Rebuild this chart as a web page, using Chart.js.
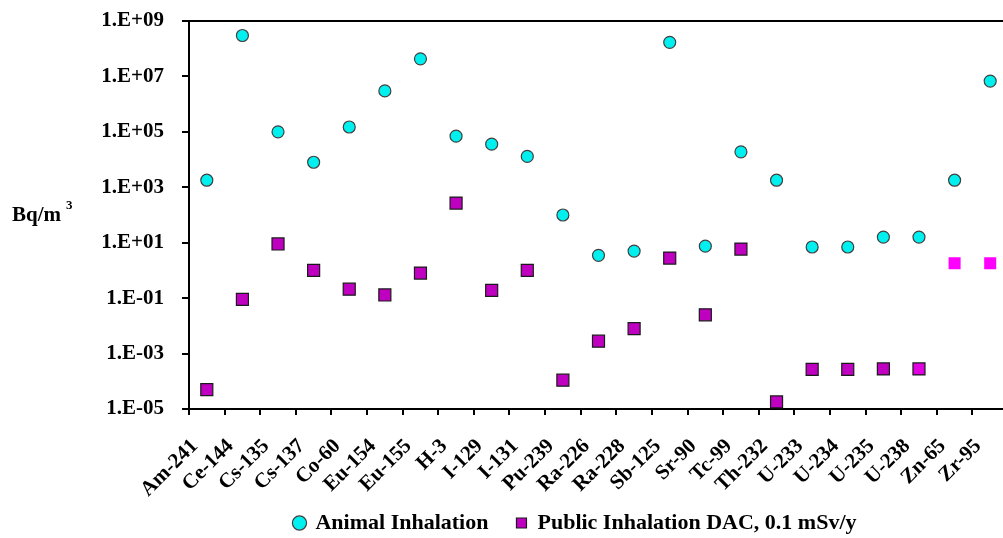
<!DOCTYPE html>
<html><head><meta charset="utf-8">
<script src="https://cdn.jsdelivr.net/npm/chart.js@4/dist/chart.umd.min.js"></script>
<style>
html,body{margin:0;padding:0;background:#fff;overflow:hidden;}
#wrap{width:1003px;height:538px;position:relative;}
canvas{display:block;}
</style></head><body>
<div id="wrap"><canvas id="c" width="1003" height="538"></canvas></div>
<script>
const categories = ['Am-241','Ce-144','Cs-135','Cs-137','Co-60','Eu-154','Eu-155','H-3','I-129','I-131','Pu-239','Ra-226','Ra-228','Sb-125','Sr-90','Tc-99','Th-232','U-233','U-234','U-235','U-238','Zn-65','Zr-95'];
const animalInhalation = [1.8e3, 3e8, 1e5, 8e3, 1.5e5, 3e6, 4.3e7, 7e4, 3.6e4, 1.3e4, 100, 3.5, 5, 1.7e8, 7.5, 1.9e4, 1.8e3, 7, 7, 16, 16, 1.8e3, 6.8e6];
const publicInhalationDAC = [5e-5, 0.09, 9, 1.0, 0.21, 0.13, 0.8, 270, 0.19, 1.0, 1.1e-4, 2.8e-3, 8e-3, 2.8, 0.025, 5.9, 1.8e-5, 2.7e-4, 2.7e-4, 2.8e-4, 2.8e-4, 1.8, 1.8];
const yTickValues = [1e-5, 1e-3, 1e-1, 1e1, 1e3, 1e5, 1e7, 1e9];
const yTickLabels = ['1.E-05','1.E-03','1.E-01','1.E+01','1.E+03','1.E+05','1.E+07','1.E+09'];
const seriesNames = ['Animal Inhalation', 'Public Inhalation DAC, 0.1 mSv/y'];
const yAxisTitle = 'Bq/m';
const yAxisTitleSup = '3';

const FONT = '"Liberation Serif", "Times New Roman", serif';
const PLOT_TOP = 21, PLOT_BOTTOM = 409, PLOT_RIGHT = 1008, CANVAS_H = 538, PAD_B = -20;
const pubFill = categories.map((c, i) => i >= 21 ? '#FF00FF' : (i === 20 ? '#E000E0' : '#C000C0'));
const pubBorder = categories.map((c, i) => i >= 21 ? 'rgba(0,0,0,0)' : '#1a1a1a');

const frame = {
  id: 'frame',
  afterLayout(chart) {
    const xs = chart.scales.x;
    if (xs) {
      xs.right = PLOT_RIGHT;
      xs.width = PLOT_RIGHT - xs.left;
      xs.configure();
      chart.chartArea.right = PLOT_RIGHT;
      chart.chartArea.width = PLOT_RIGHT - chart.chartArea.left;
    }
    const lg = chart.legend;
    if (lg) {
      const h = lg.bottom - lg.top;
      lg.top = 514 - h / 2; lg.bottom = lg.top + h;
      lg.left += 74; lg.right += 74;
    }
  },
  afterDatasetsDraw(chart) {
    const {ctx, chartArea: a} = chart;
    ctx.save();
    ctx.strokeStyle = '#000';
    ctx.lineWidth = 2;
    ctx.beginPath();
    ctx.moveTo(a.left, a.top);
    ctx.lineTo(a.right, a.top);
    ctx.stroke();
    ctx.fillStyle = '#000';
    ctx.font = 'bold 21px ' + FONT;
    ctx.textBaseline = 'alphabetic';
    ctx.textAlign = 'left';
    ctx.fillText(yAxisTitle, 12, 221);
    const w = ctx.measureText(yAxisTitle).width;
    ctx.font = 'bold 13px ' + FONT;
    ctx.fillText(yAxisTitleSup, 12 + w + 5, 209);
    ctx.restore();
  }
};

new Chart(document.getElementById('c'), {
  type: 'line',
  data: {
    labels: categories,
    datasets: [
      {
        label: seriesNames[0],
        data: animalInhalation,
        showLine: false,
        pointStyle: 'circle',
        pointRadius: 6,
        pointBackgroundColor: '#00F0F0',
        pointBorderColor: '#404040',
        pointBorderWidth: 1.2,
        backgroundColor: '#00F0F0',
        borderColor: '#404040'
      },
      {
        label: seriesNames[1],
        data: publicInhalationDAC,
        showLine: false,
        pointStyle: 'rect',
        pointRadius: 8.5,
        pointBackgroundColor: pubFill,
        pointBorderColor: pubBorder,
        pointBorderWidth: 1.2,
        backgroundColor: '#C000C0',
        borderColor: '#1a1a1a'
      }
    ]
  },
  options: {
    responsive: false,
    maintainAspectRatio: false,
    animation: false,
    layout: { padding: { top: PLOT_TOP, right: 0, bottom: PAD_B, left: 0 } },
    plugins: {
      legend: {
        position: 'bottom',
        labels: {
          usePointStyle: true,
          boxWidth: 10,
          boxHeight: 10,
          padding: 28,
          color: '#000',
          font: { family: FONT, size: 22, weight: 'bold' }
        }
      },
      tooltip: { enabled: false }
    },
    scales: {
      x: {
        type: 'category',
        offset: true,
        grid: { display: true, drawOnChartArea: false, drawTicks: true, tickLength: 6, color: '#000', lineWidth: 2, offset: true },
        border: { display: true, color: '#000', width: 2 },
        ticks: {
          color: '#000',
          font: { family: FONT, size: 21, weight: 'bold' },
          maxRotation: 45, minRotation: 45,
          autoSkip: false,
          padding: 19,
          labelOffset: -12
        },
        afterFit(s) {
          const L = s.chart.legend ? s.chart.legend.height : 0;
          s.height = CANVAS_H - PAD_B - PLOT_BOTTOM - L;
          s.paddingLeft = 0; s.paddingRight = 0;
        }
      },
      y: {
        type: 'logarithmic',
        min: 1e-5,
        max: 1e9,
        afterBuildTicks(s) { s.ticks = yTickValues.map(v => ({ value: v })); },
        grid: { display: true, drawOnChartArea: false, drawTicks: true, tickLength: 7, color: '#000', lineWidth: 2 },
        border: { display: true, color: '#000', width: 2 },
        ticks: {
          color: '#000',
          font: { family: FONT, size: 21, weight: 'bold' },
          padding: 18,
          callback(v) { const i = yTickValues.indexOf(v); return i >= 0 ? yTickLabels[i] : ''; }
        },
        afterFit(s) { s.width = 189; s.paddingTop = 0; s.paddingBottom = 0; }
      }
    }
  },
  plugins: [frame]
});
</script>
</body></html>
